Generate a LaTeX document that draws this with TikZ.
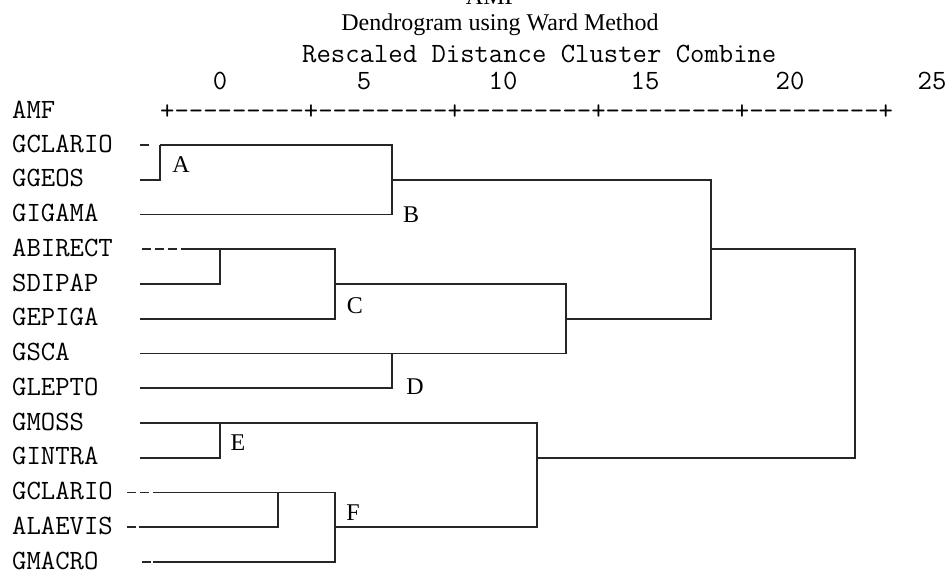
\documentclass[tikz,border=0pt]{standalone}
\usepackage{fontspec}
\setmainfont{Liberation Serif}
\usetikzlibrary{calc}
\tikzset{
  link/.style={line width=1.6pt, draw=black!85},
  lead/.style={link, dash pattern=on 9pt off 4pt},
  leaf/.style={anchor=base west, inner sep=0pt, font=\ttfamily\fontsize{27.9}{27.9}\selectfont},
  tag/.style={inner sep=0pt, font=\fontsize{24}{24}\selectfont},
}

\begin{document}
\begin{tikzpicture}[x=1pt, y=-1pt]
  \useasboundingbox (0,0) rectangle (951,571);
  % titles and scale
  \node[tag, anchor=base] (title) at (492,4) {AMF};
  \node[tag, anchor=base] (method) at (500,30) {Dendrogram using Ward Method};
  \node[leaf] (scale) at (302,62) {Rescaled Distance Cluster Combine};
  \foreach \v/\x in {0/220, 5/364, 10/503, 15/645, 20/790, 25/932}
    \node[leaf, anchor=base] (n\v) at (\x,89) {\v};
  \node[leaf] (amf) at (12,118) {AMF};
  \node[leaf] (axis) at (160,119) {+---------+---------+---------+---------+---------+};
  % leaves, one row each
  \foreach \i/\name in {1/GCLARIO, 2/GGEOS, 3/GIGAMA, 4/ABIRECT, 5/SDIPAP, 6/GEPIGA, 7/GSCA,
                        8/GLEPTO, 9/GMOSS, 10/GINTRA, 11/GCLARIO, 12/ALAEVIS, 13/GMACRO}{
    \pgfmathsetmacro\y{145+34.75*(\i-1)}
    \coordinate (r\i) at (0,\y);
    \node[leaf] (l\i) at (12,\y+7) {\name};}
  % merge columns
  \foreach \c/\x in {s/140, a/160, e/220, g/278, c/335, b/392, h/537, i/566, j/711, k/855}
    \coordinate (x\c) at (\x,0);
  % dashed starts
  \draw[lead] (xs |- r1) -- ++(9,0);
  \draw[lead] ($(xs |- r4)+(2,0)$) -- ++(41,0);
  \draw[lead] ($(xs |- r11)+(-13,0)$) -- ++(26,0);
  \draw[lead] ($(xs |- r12)+(-13,0)$) -- ++(9,0);
  \draw[lead] ($(xs |- r13)+(2,0)$) -- ++(9,0);
  % clusters A, B
  \draw[link] (xs |- r2) -- (xa |- r2) -- (xa |- r1);
  \draw[link] (xa |- r1) -- (xb |- r1) -- (xb |- r3) -- (xs |- r3);
  \draw[link] (xb |- r2) -- (xj |- r2) -- (xj |- r6) -- (xi |- r6);
  % clusters C, D
  \draw[link] ($(xs |- r4)+(43,0)$) -- (xc |- r4) -- (xc |- r6) -- (xs |- r6);
  \draw[link] (xe |- r4) -- (xe |- r5) -- (xs |- r5);
  \draw[link] (xc |- r5) -- (xi |- r5) -- (xi |- r7) -- (xs |- r7);
  \draw[link] (xb |- r7) -- (xb |- r8) -- (xs |- r8);
  % root
  \draw[link] (xj |- r4) -- (xk |- r4) -- (xk |- r10) -- (xh |- r10);
  % clusters E, F
  \draw[link] (xs |- r9) -- (xh |- r9) -- (xh |- r12) -- (xc |- r12);
  \draw[link] (xe |- r9) -- (xe |- r10) -- (xs |- r10);
  \draw[link] ($(xs |- r11)+(13,0)$) -- (xc |- r11) -- (xc |- r13) -- ($(xs |- r13)+(13,0)$);
  \draw[link] (xg |- r11) -- (xg |- r12) -- ($(xs |- r12)+(-1,0)$);
  % cluster letters
  \foreach \t/\x/\y in {A/181/165, B/411/215, C/355/306, D/415/387, E/238/443, F/353/513}
    \node[tag] (k\t) at (\x,\y) {\t};
\end{tikzpicture}
\end{document}
